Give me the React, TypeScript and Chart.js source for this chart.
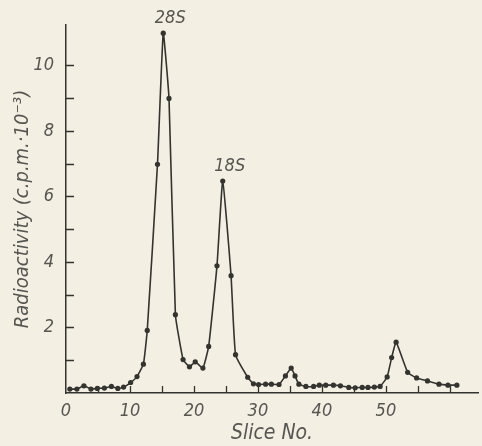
import { useEffect, useRef } from 'react';
import { Chart, registerables } from 'chart.js';

Chart.register(...registerables);

// Slice number (x) and radioactivity, c.p.m. x 10^-3 (y)
const slices = [
  0.6, 1.7, 2.8, 3.9, 4.9, 6.0, 7.1, 8.1, 9.0, 10.1,
  11.1, 12.1, 12.7, 14.3, 15.2, 16.1, 17.1, 18.3, 19.3, 20.2,
  21.4, 22.3, 23.6, 24.5, 25.8, 26.5, 28.4, 29.3, 30.1, 31.2,
  32.1, 33.3, 34.3, 35.2, 35.8, 36.4, 37.5, 38.7, 39.6, 40.6,
  41.8, 42.9, 44.2, 45.2, 46.3, 47.2, 48.2, 49.1, 50.2, 50.9,
  51.6, 53.4, 54.8, 56.5, 58.3, 59.7, 61.1,
];
const radioactivity = [
  0.12, 0.12, 0.22, 0.12, 0.14, 0.15, 0.2, 0.14, 0.18, 0.32,
  0.5, 0.88, 1.91, 6.98, 10.98, 8.99, 2.39, 1.02, 0.8, 0.95,
  0.76, 1.42, 3.88, 6.47, 3.58, 1.17, 0.48, 0.28, 0.26, 0.27,
  0.27, 0.26, 0.52, 0.76, 0.52, 0.27, 0.2, 0.2, 0.24, 0.24,
  0.24, 0.22, 0.17, 0.16, 0.17, 0.17, 0.18, 0.2, 0.49, 1.08,
  1.55, 0.63, 0.46, 0.37, 0.27, 0.24, 0.24,
];

const xTickLabels = [0, 10, 20, 30, 40, 50, 60];
const yTickLabels = [2, 4, 6, 8, 10];
const peakNames = ['28S', '18S'];
const peakSlices = [15.2, 24.5];
const peakValues = [10.98, 6.47];

const INK = '#333330';
const TEXT = '#555552';
const BG = '#f3efe3';
const FONT = "'Liberation Sans Narrow', 'DejaVu Sans Condensed', 'Roboto Condensed', sans-serif";

const innerTicks = {
  id: 'innerTicks',
  afterDraw(chart: any) {
    const { ctx, chartArea, scales } = chart;
    const xs = scales.x;
    const ys = scales.y;
    ctx.save();
    ctx.strokeStyle = INK;
    ctx.lineWidth = 1.3;
    ctx.beginPath();
    for (let v = 5; v <= xs.max; v += 5) {
      const px = Math.round(xs.getPixelForValue(v)) + 0.5;
      ctx.moveTo(px, chartArea.bottom);
      ctx.lineTo(px, chartArea.bottom - 7);
    }
    for (let v = 1; v <= 10; v += 1) {
      const py = Math.round(ys.getPixelForValue(v)) + 0.5;
      ctx.moveTo(chartArea.left, py);
      ctx.lineTo(chartArea.left + 8, py);
    }
    ctx.stroke();

    ctx.fillStyle = TEXT;
    ctx.font = `italic 18px ${FONT}`;
    ctx.textAlign = 'center';
    ctx.textBaseline = 'middle';
    peakNames.forEach((name, i) => {
      const px = xs.getPixelForValue(peakSlices[i]) + 7;
      const py = ys.getPixelForValue(peakValues[i]) - 15;
      ctx.fillText(name, px, py);
    });
    ctx.restore();
  },
};

export default function App() {
  const ref = useRef<HTMLCanvasElement | null>(null);

  useEffect(() => {
    if (!ref.current) return;
    const chart = new Chart(ref.current, {
      type: 'line',
      data: {
        datasets: [
          {
            data: slices.map((s, i) => ({ x: s, y: radioactivity[i] })),
            borderColor: INK,
            backgroundColor: INK,
            borderWidth: 1.6,
            pointRadius: 2.6,
            pointBorderWidth: 0,
            pointBackgroundColor: INK,
            tension: 0.12,
            fill: false,
          },
        ],
      },
      options: {
        responsive: false,
        animation: false,
        events: [],
        layout: { padding: { top: 25, right: 0, left: 0, bottom: 0 } },
        plugins: { legend: { display: false }, tooltip: { enabled: false } },
        scales: {
          x: {
            type: 'linear',
            min: 0,
            max: 64.4,
            afterFit: (s: any) => { s.height = 53; s.paddingRight = 0; s.paddingLeft = 0; },
            grid: { display: false, drawTicks: false },
            border: { display: true, color: INK, width: 1.5 },
            ticks: {
              stepSize: 10,
              autoSkip: false,
              maxRotation: 0,
              padding: 8,
              color: TEXT,
              font: { family: FONT, style: 'italic', size: 18 },
              callback: (v: any) => (xTickLabels.includes(Number(v)) ? String(v) : ''),
            },
            title: {
              display: true,
              text: 'Slice No.',
              color: TEXT,
              padding: { top: 0, bottom: 0 },
              font: { family: FONT, style: 'italic', size: 21 },
            },
          },
          y: {
            type: 'linear',
            min: 0,
            max: 11.23,
            afterFit: (s: any) => { s.width = 66; },
            grid: { display: false, drawTicks: false },
            border: { display: true, color: INK, width: 1.5 },
            ticks: {
              stepSize: 1,
              autoSkip: false,
              padding: 12,
              color: TEXT,
              font: { family: FONT, style: 'italic', size: 18 },
              callback: (v: any) => (yTickLabels.includes(Number(v)) ? String(v) : ''),
            },
            title: {
              display: true,
              text: 'Radioactivity (c.p.m.\u00b710\u207b\u00b3)',
              color: TEXT,
              padding: { top: 11, bottom: 11 },
              font: { family: FONT, style: 'italic', size: 20 },
            },
          },
        },
      },
      plugins: [innerTicks],
    });
    return () => chart.destroy();
  }, []);

  return (
    <div style={{ position: 'fixed', left: 0, top: 0, width: 482, height: 446, background: BG }}>
      <canvas ref={ref} width={482} height={446} style={{ display: 'block' }} />
    </div>
  );
}
